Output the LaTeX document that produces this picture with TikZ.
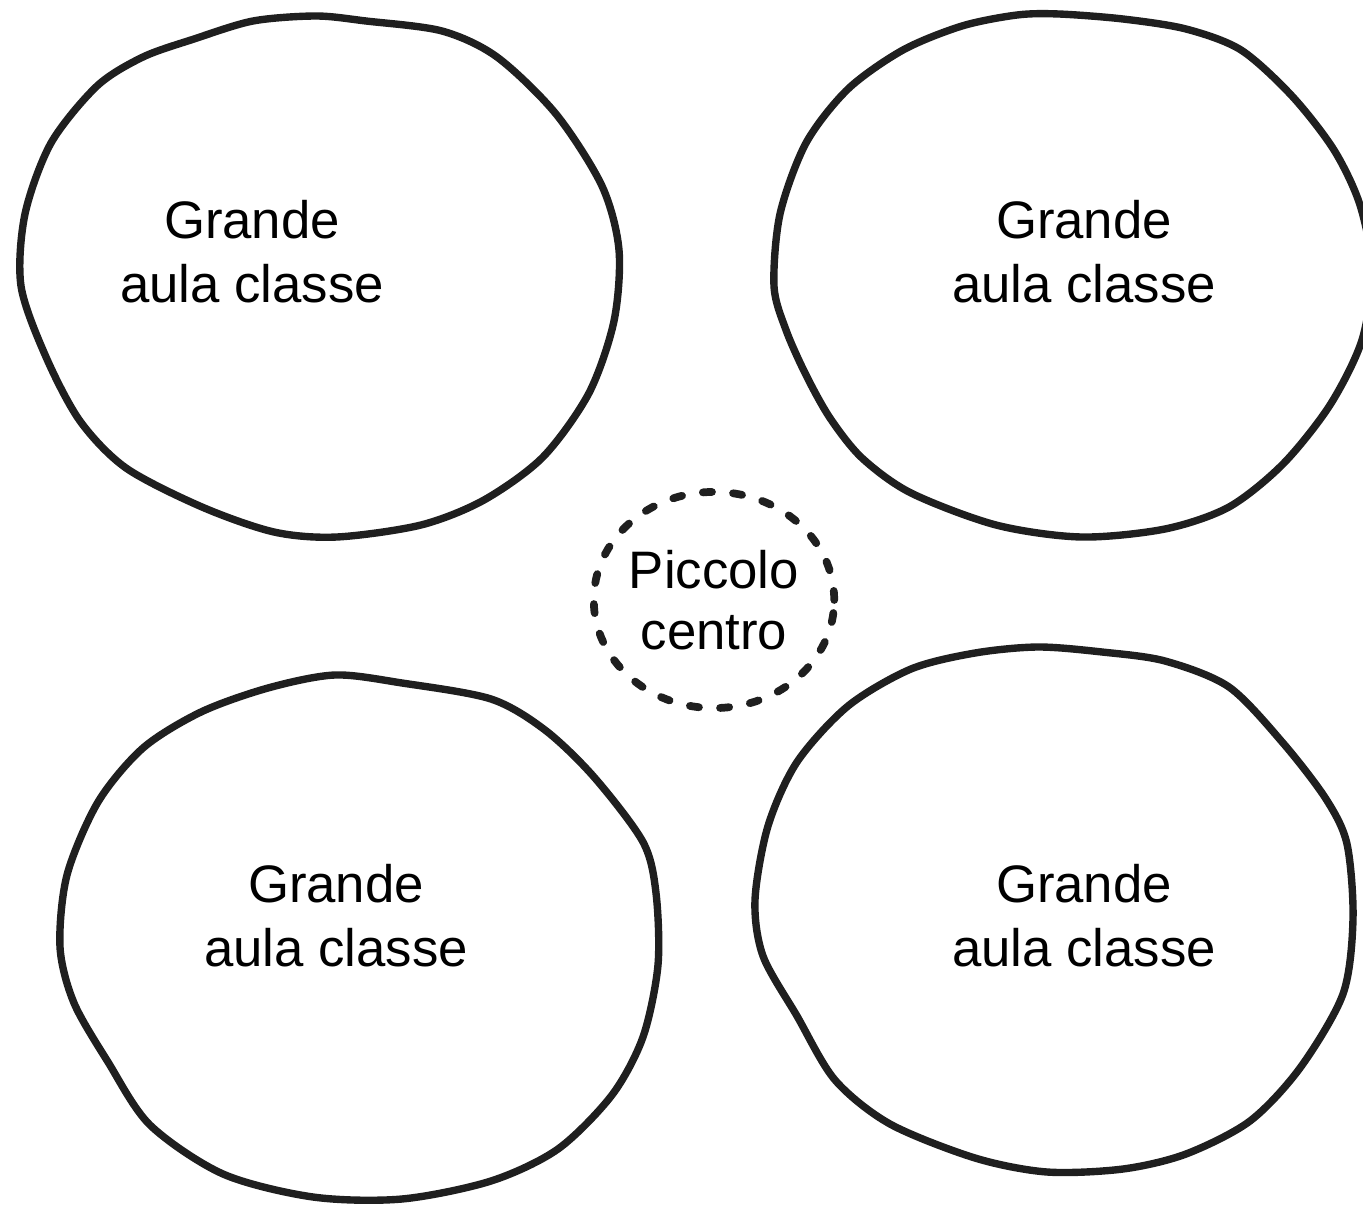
\documentclass[tikz,border=0pt]{standalone}
\usepackage{fontspec}
\setmainfont{Liberation Sans}
\usetikzlibrary{shapes.geometric}

\begin{document}
\begin{tikzpicture}
                    [
                        x=0.01cm, y=-0.01cm,
                        roomline/.style = {draw=black!88, line width=2.1pt, line join=round},
                        roomtext/.style = {align=center, inner sep=0pt, font=\fontsize{15}{18.2}\selectfont},
                        hub/.style = {draw=black!88, shape=ellipse, line width=2.2pt, dash pattern=on 2.6pt off 6pt, line cap=round, minimum width=2.36cm, minimum height=2.16cm, inner sep=0pt, align=center, font=\fontsize{15}{17.4}\selectfont},
                    ]

                    \useasboundingbox (0,0) rectangle (1363,1206);

                    \draw[roomline] plot[smooth cycle] coordinates {(316,16) (366,21) (442,31) (497,57) (556,114) (602,186) (619,250) (614,321) (589,393) (543,457) (484,500) (421,525) (337,537) (274,532) (202,507) (126,468) (80,421) (46,357) (21,286) (25,214) (51,143) (97,86) (143,57) (194,39) (253,21)};
                    \draw[roomline] plot[smooth cycle] coordinates {(1017,15) (1059,14) (1123,19) (1186,29) (1241,50) (1292,96) (1334,150) (1360,205) (1372,270) (1362,340) (1330,405) (1283,464) (1229,507) (1165,529) (1081,537) (996,525) (911,493) (862,458) (830,418) (806,375) (786,330) (774,286) (780,214) (806,143) (848,89) (903,50) (962,26)};
                    \draw[roomline] plot[smooth cycle] coordinates {(335,675) (402,683) (491,699) (545,730) (594,777) (643,842) (656,893) (658,965) (643,1037) (612,1095) (558,1149) (491,1181) (402,1199) (313,1197) (223,1174) (150,1125) (108,1062) (74,1003) (60,947) (67,875) (98,802) (143,748) (201,712) (268,688)};
                    \draw[roomline] plot[smooth cycle] coordinates {(1038,647) (1102,652) (1165,661) (1229,687) (1283,743) (1326,799) (1347,844) (1353,919) (1343,994) (1300,1068) (1250,1121) (1186,1154) (1123,1169) (1047,1172) (975,1158) (890,1124) (835,1080) (797,1016) (763,956) (755,900) (768,826) (797,762) (848,706) (911,669) (975,653)};

                    \node[roomtext] (room1) at (252,252)   {Grande\\aula classe};
                    \node[roomtext] (room2) at (1084,252)  {Grande\\aula classe};
                    \node[roomtext] (room3) at (336,916)   {Grande\\aula classe};
                    \node[roomtext] (room4) at (1084,916)  {Grande\\aula classe};

                    \node[hub] (centre) at (714,600) {Piccolo\\centro};
                \end{tikzpicture}
\end{document}
